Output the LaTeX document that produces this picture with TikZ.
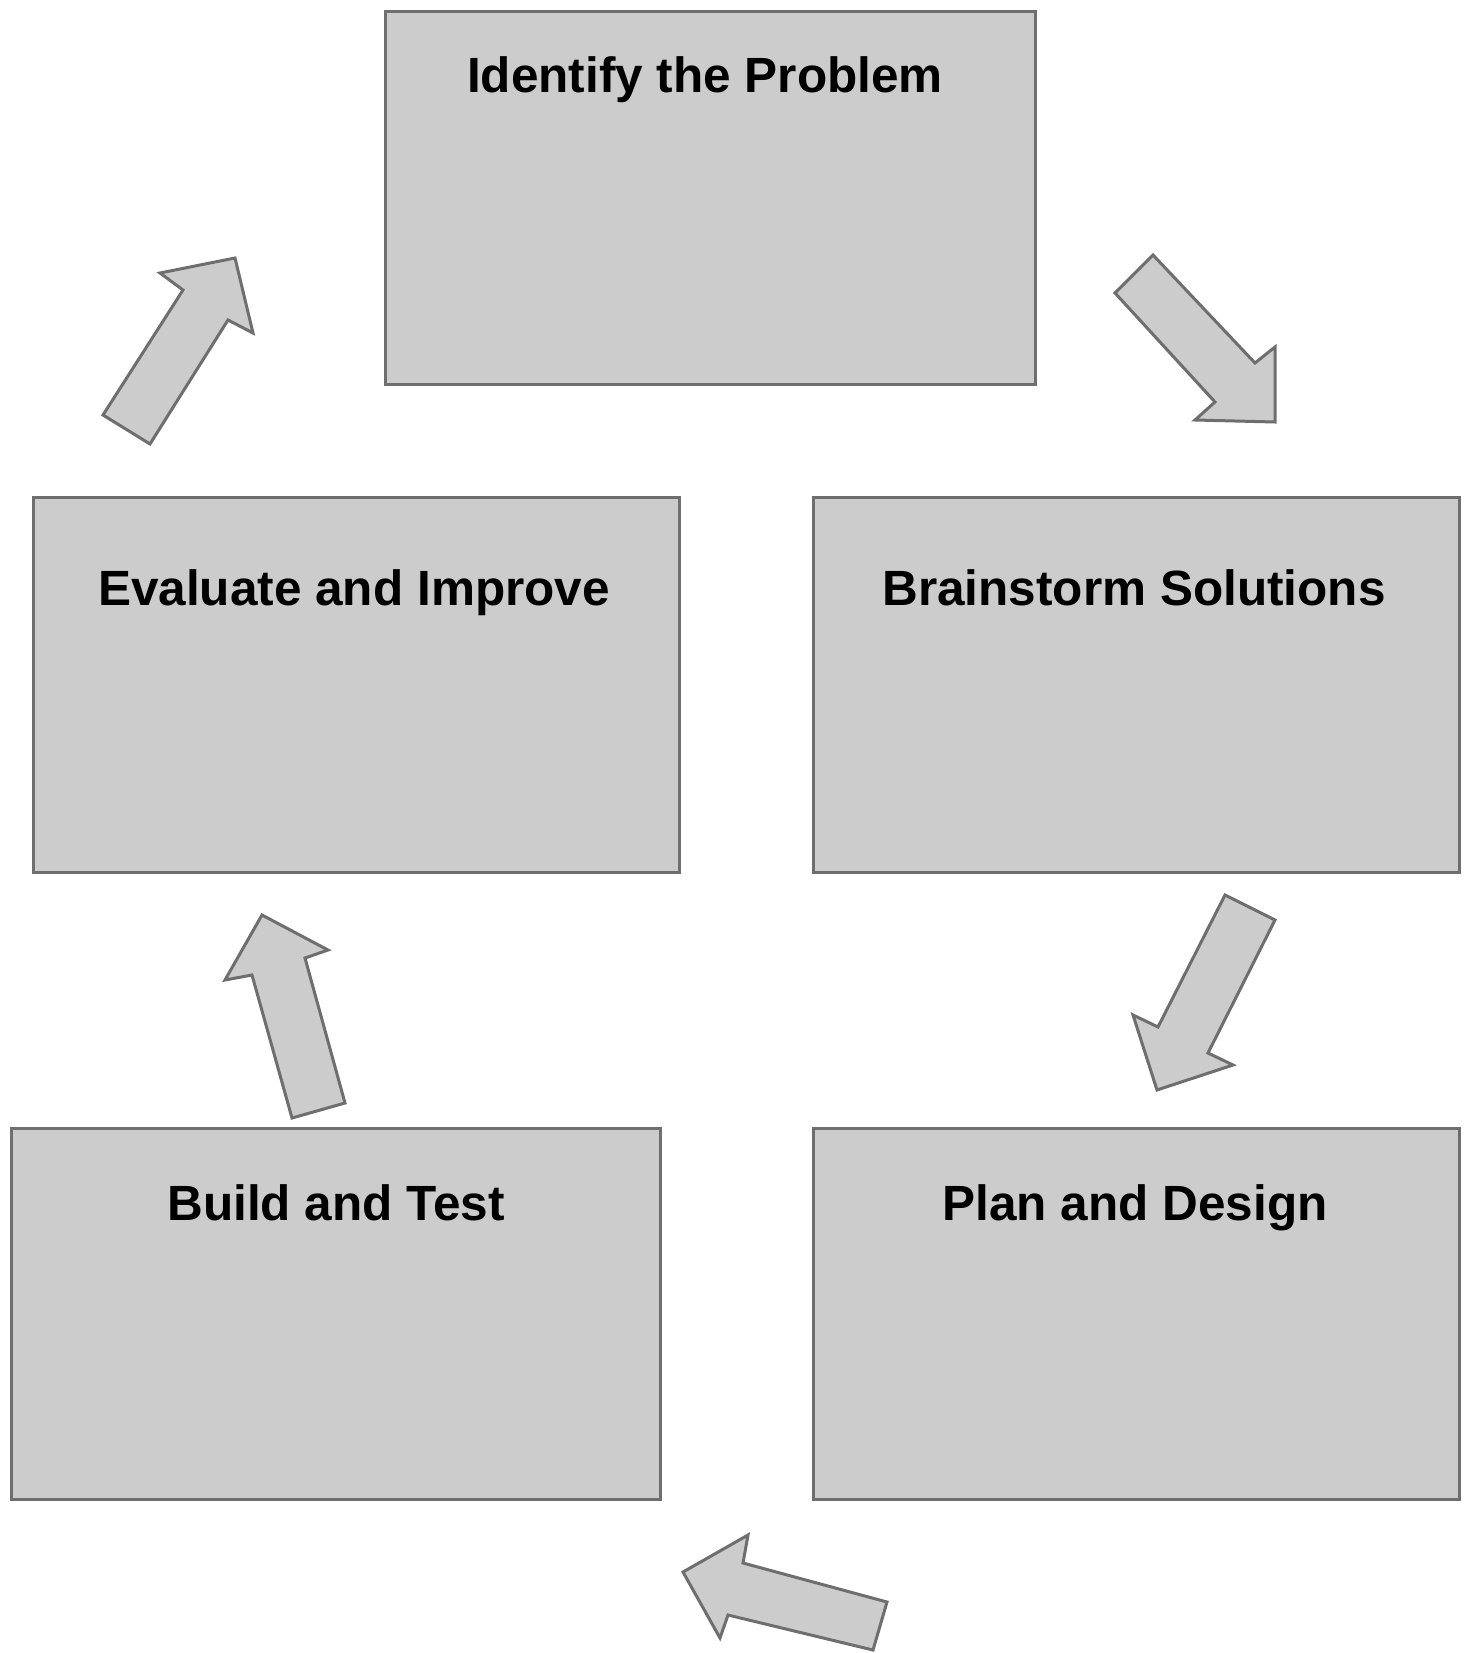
\documentclass[tikz,border=0pt]{standalone}
\usepackage{fontspec}
\setmainfont{Liberation Sans}
\definecolor{boxfill}{HTML}{CCCCCC}
\definecolor{boxline}{HTML}{6E6E6E}
\begin{document}
\begin{tikzpicture}[x=1pt,y=-1pt,
  box/.style={draw=boxline, fill=boxfill, line width=3pt, rectangle, inner sep=0pt, anchor=north west},
  lbl/.style={font=\bfseries\fontsize{49.5}{58}\selectfont, text=black, inner sep=0pt, anchor=base},
  blockarrow/.style={draw=boxline, fill=boxfill, line width=3pt, line join=miter}]
\useasboundingbox (0,0) rectangle (1465,1653);
\fill[white] (0,0) rectangle (1465,1653);
% boxes
\node[box, minimum width=650pt, minimum height=372pt] (identify) at (384,10.5) {};
\node[box, minimum width=646pt, minimum height=375pt] (evaluate) at (31.6,496.4) {};
\node[box, minimum width=646pt, minimum height=375pt] (brainstorm) at (811.6,496.4) {};
\node[box, minimum width=649pt, minimum height=371pt] (build) at (9.5,1126.7) {};
\node[box, minimum width=646pt, minimum height=371pt] (plan) at (811.6,1126.7) {};
% labels
\node[lbl] (tidentify) at (705,93) {Identify the Problem};
\node[lbl] (tevaluate) at (354,605) {Evaluate and Improve};
\node[lbl] (tbrainstorm) at (1134,605) {Brainstorm Solutions};
\node[lbl] (tbuild) at (336,1220) {Build and Test};
\node[lbl] (tplan) at (1135,1220) {Plan and Design};
% block arrows
\draw[blockarrow] (103,415) -- (150,444) -- (228,320) -- (253,333) -- (235,258) -- (160,273) -- (183,290) -- cycle;
\draw[blockarrow] (1153,255) -- (1115,293) -- (1215,402) -- (1195,420) -- (1275,422) -- (1275,347) -- (1255,363) -- cycle;
\draw[blockarrow] (1225,895) -- (1275,920) -- (1208,1053) -- (1233,1065) -- (1157,1090) -- (1133,1015) -- (1158,1027) -- cycle;
\draw[blockarrow] (345,1103) -- (292,1118) -- (252,975) -- (225,980) -- (262,915) -- (328,950) -- (305,958) -- cycle;
\draw[blockarrow] (887,1602) -- (873,1650) -- (728,1615) -- (720,1638) -- (683,1572) -- (748,1535) -- (743,1563) -- cycle;
\end{tikzpicture}
\end{document}
